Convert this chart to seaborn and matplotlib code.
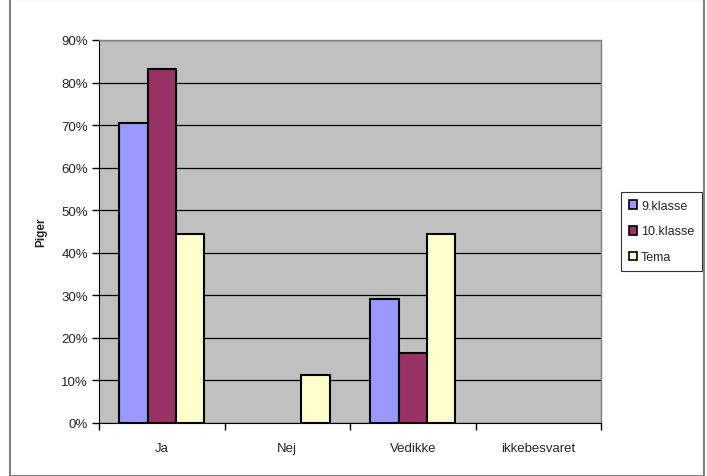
import pandas as pd
import seaborn as sns
import matplotlib.pyplot as plt
from matplotlib.patches import Rectangle
from matplotlib.ticker import PercentFormatter, FixedLocator

categories = ["Ja", "Nej", "Vedikke", "ikkebesvaret"]
klasse9 = [70.4, 0.0, 29.2, 0.0]
klasse10 = [83.3, 0.0, 16.5, 0.0]
tema = [44.3, 11.2, 44.3, 0.0]
series_names = ["9.klasse", "10.klasse", "Tema"]
colors = ["#9999ff", "#993366", "#ffffcc"]

rows = []
for name, vals in zip(series_names, [klasse9, klasse10, tema]):
    for cat, v in zip(categories, vals):
        rows.append({"svar": cat, "serie": name, "pct": v})
df = pd.DataFrame(rows)

sns.set_style("white")
plt.rcParams["font.family"] = ["Liberation Sans", "DejaVu Sans"]

fig = plt.figure(figsize=(7.07, 4.77), dpi=100)
ax = fig.add_axes([99 / 707, 1 - 424 / 477, 502 / 707, 383 / 477])
ax.set_facecolor("#c0c0c0")

sns.barplot(data=df, x="svar", y="pct", hue="serie", order=categories,
            hue_order=series_names, palette=colors, saturation=1, width=0.68,
            gap=0, edgecolor="black", linewidth=1.5, ax=ax, zorder=3)

ax.set_ylim(0, 90)
ax.set_xlim(-0.5, 3.5)
ax.yaxis.set_major_locator(FixedLocator(range(0, 91, 10)))
ax.yaxis.set_major_formatter(PercentFormatter(decimals=0))
ax.grid(axis="y", color="black", linewidth=0.9, zorder=0)
ax.set_axisbelow(True)

for side in ["top", "right"]:
    ax.spines[side].set_color("#808080")
    ax.spines[side].set_linewidth(1)
ax.spines["left"].set_color("black")
ax.spines["bottom"].set_color("black")

ax.tick_params(axis="y", which="major", left=True, length=5, width=1,
               color="black", labelsize=9.5, pad=3)
ax.set_xticks([-0.5, 0.5, 1.5, 2.5, 3.5], minor=False)
ax.set_xticklabels([])
ax.set_xticks(range(4), minor=True)
ax.set_xticklabels(categories, minor=True)
ax.tick_params(axis="x", which="major", bottom=True, length=5, width=1, color="black")
ax.tick_params(axis="x", which="minor", bottom=False, labelsize=9.5, pad=12)

ax.set_xlabel("")
ax.set_ylabel("Piger", fontsize=8.5, fontweight="bold", labelpad=10)

leg = ax.legend(loc="center left", bbox_to_anchor=(1.04, 0.5), frameon=True,
                fancybox=False, edgecolor="black", fontsize=9,
                handlelength=0.7, handleheight=0.7, labelspacing=1.1,
                borderpad=0.6, handletextpad=0.3, borderaxespad=0)
leg.get_frame().set_linewidth(0.8)
for h in leg.legend_handles:
    h.set_linewidth(1.2)
    h.set_visible(True)

# empty bars should not leave a stroke on the baseline (after legend is built)
for p in ax.patches:
    if p.get_height() == 0:
        p.set_visible(False)

fig.patches.append(Rectangle((10 / 707, 0), 694 / 707, 1, transform=fig.transFigure,
                             fill=False, edgecolor="#808080", linewidth=1.5))

fig.savefig("out.png", dpi=100)
